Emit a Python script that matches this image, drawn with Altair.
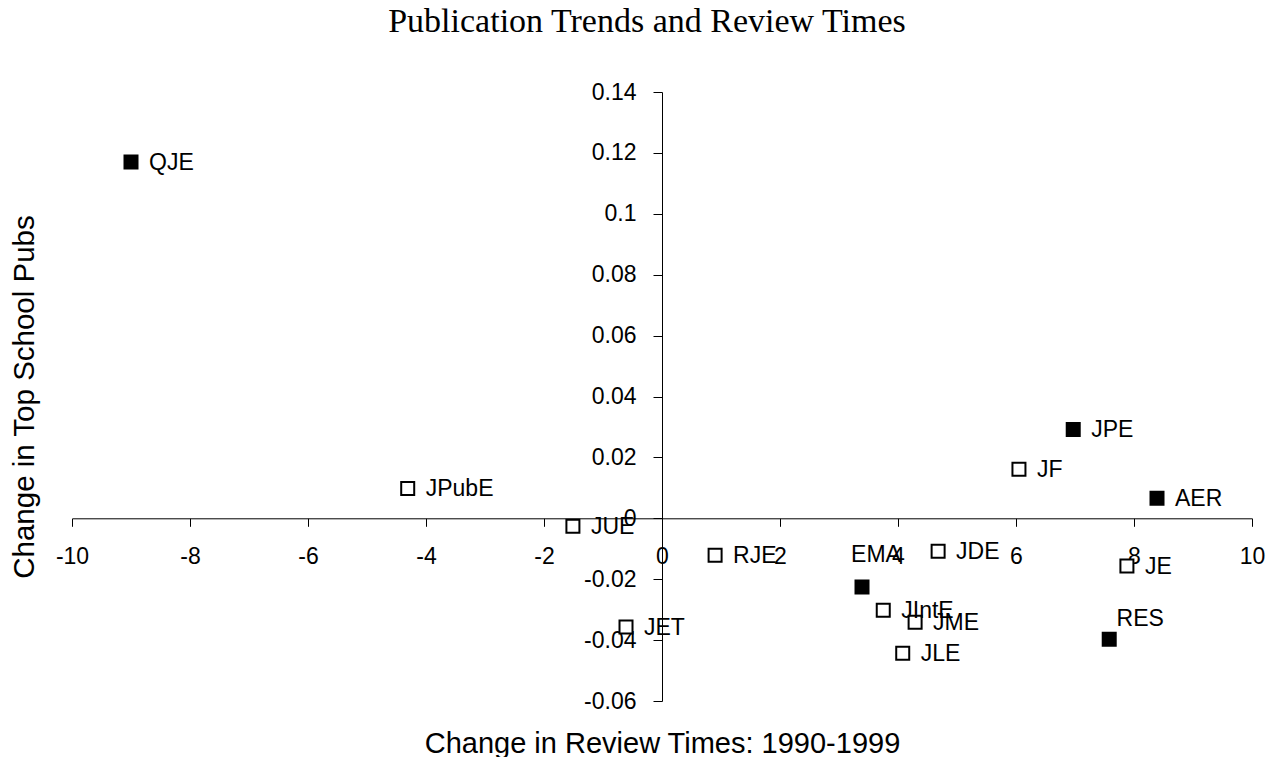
import altair as alt
import pandas as pd

journals = ["QJE", "JPubE", "JUE", "JET", "RJE", "EMA", "JIntE", "JME", "JLE",
            "JDE", "JF", "JPE", "AER", "JE", "RES"]
review_change = [-9.0, -4.31, -1.51, -0.61, 0.90, 3.39, 3.75, 4.29, 4.08,
                 4.68, 6.05, 6.97, 8.39, 7.88, 7.58]
pub_change = [0.117, 0.0098, -0.0026, -0.0357, -0.0121, -0.0226, -0.0302, -0.0341, -0.0443,
              -0.0108, 0.0161, 0.0292, 0.0066, -0.0157, -0.0397]
top_journal = ["Top", "Other", "Other", "Other", "Other", "Top", "Other", "Other", "Other",
               "Other", "Other", "Top", "Top", "Other", "Top"]

x_ticks = [-10, -8, -6, -4, -2, 0, 2, 4, 6, 8, 10]
y_ticks = [-0.06, -0.04, -0.02, 0, 0.02, 0.04, 0.06, 0.08, 0.1, 0.12, 0.14]
x_domain = [-10, 10]
y_domain = [-0.06, 0.14]

df = pd.DataFrame({
    "journal": journals,
    "review": review_change,
    "pubs": pub_change,
    "group": top_journal,
})

W, H = 1180, 609
SANS = "Liberation Sans"

# offsets that make the axes cross at zero
x_axis_offset = -H * (0 - y_domain[0]) / (y_domain[1] - y_domain[0])
y_axis_offset = -W * (0 - x_domain[0]) / (x_domain[1] - x_domain[0])

xscale = alt.Scale(domain=x_domain, nice=False, zero=False)
yscale = alt.Scale(domain=y_domain, nice=False, zero=False)

x_lab = "datum.value < 0 ? '-' + format(-datum.value, 'd') : format(datum.value, 'd')"
y_lab = "datum.value < 0 ? '-' + format(-datum.value, '.2~f') : format(datum.value, '.2~f')"

base = alt.Chart(df)

points = base.mark_square(size=169, stroke="black", strokeWidth=2, opacity=1).encode(
    x=alt.X("review:Q", scale=xscale,
            axis=alt.Axis(orient="bottom", offset=x_axis_offset, values=x_ticks, title=None,
                          grid=False, domainColor="black", tickColor="black", tickSize=8,
                          labelPadding=19, labelFont=SANS, labelFontSize=23, labelColor="black",
                          labelExpr=x_lab, labelOverlap=False, labelFlush=False)),
    y=alt.Y("pubs:Q", scale=yscale,
            axis=alt.Axis(orient="left", offset=y_axis_offset, values=y_ticks, title=None,
                          grid=False, domainColor="black", tickColor="black", tickSize=9,
                          labelPadding=17, labelFont=SANS, labelFontSize=23, labelColor="black",
                          labelExpr=y_lab, labelOverlap=False, labelFlush=False)),
    fill=alt.Fill("group:N", scale=alt.Scale(domain=["Top", "Other"], range=["black", "white"]),
                  legend=None),
)

right_labels = base.transform_filter(
    ~alt.FieldOneOfPredicate(field="journal", oneOf=["EMA", "RES"])
).mark_text(align="left", baseline="middle", dx=18, dy=1, font=SANS, fontSize=23,
            color="black").encode(
    x=alt.X("review:Q", scale=xscale,
            axis=alt.Axis(orient="bottom", domain=False, ticks=False, labels=False, grid=False,
                          title="Change in Review Times: 1990-1999", titleFont=SANS,
                          titleFontSize=29, titleFontWeight="normal", titleColor="black",
                          titlePadding=28)),
    y=alt.Y("pubs:Q", scale=yscale,
            axis=alt.Axis(orient="left", domain=False, ticks=False, labels=False, grid=False,
                          title="Change in Top School Pubs", titleFont=SANS,
                          titleFontSize=29.5, titleFontWeight="normal", titleColor="black",
                          titlePadding=33)),
    text="journal:N",
)

ema_label = base.transform_filter(alt.datum.journal == "EMA").mark_text(
    align="center", baseline="alphabetic", dx=14, dy=-25, font=SANS, fontSize=23, color="black"
).encode(
    x=alt.X("review:Q", scale=xscale, axis=None),
    y=alt.Y("pubs:Q", scale=yscale, axis=None),
    text="journal:N",
)

res_label = base.transform_filter(alt.datum.journal == "RES").mark_text(
    align="center", baseline="alphabetic", dx=31, dy=-13, font=SANS, fontSize=23, color="black"
).encode(
    x=alt.X("review:Q", scale=xscale, axis=None),
    y=alt.Y("pubs:Q", scale=yscale, axis=None),
    text="journal:N",
)

chart = alt.layer(points, right_labels, ema_label, res_label).resolve_axis(
    x="independent", y="independent"
).properties(
    width=W, height=H,
    autosize=alt.AutoSizeParams(type="none"),
    padding={"left": 64, "top": 84, "right": 23, "bottom": 56},
    title=alt.TitleParams("Publication Trends and Review Times", font="Liberation Serif",
                          fontSize=34, fontWeight="normal", color="black", frame="group",
                          anchor="middle", baseline="alphabetic", offset=15, dx=-15),
    background="white",
).configure_view(stroke=None)

chart.save("out.html", embed_options={"renderer": "svg", "actions": False})
